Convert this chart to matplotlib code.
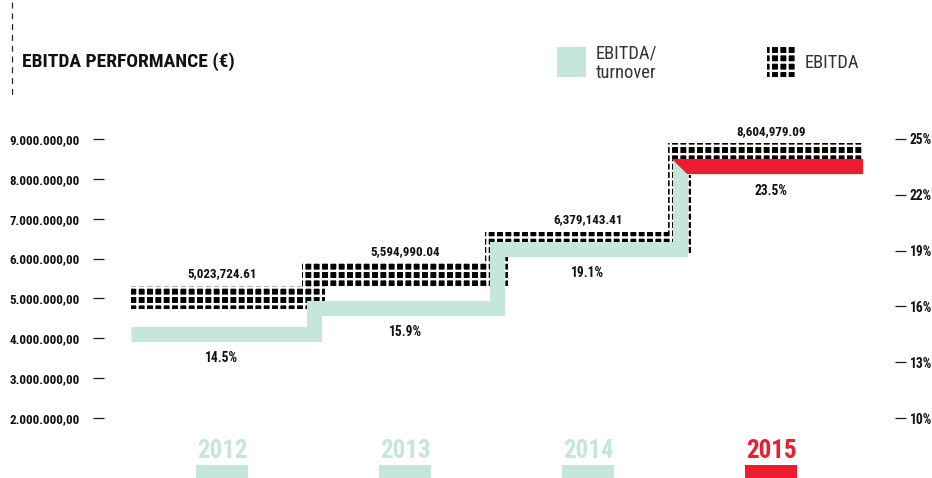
import matplotlib
matplotlib.use('Agg')
import matplotlib.pyplot as plt
from matplotlib.patches import Rectangle, Polygon
from matplotlib.lines import Line2D

# ---------------- data ----------------
years = ['2012', '2013', '2014', '2015']
ebitda = [5023724.61, 5594990.04, 6379143.41, 8604979.09]
ebitda_labels = ['5,023,724.61', '5,594,990.04', '6,379,143.41', '8,604,979.09']
ratio = [14.5, 15.9, 19.1, 23.5]
ratio_labels = ['14.5%', '15.9%', '19.1%', '23.5%']
left_ticks = [2e6, 3e6, 4e6, 5e6, 6e6, 7e6, 8e6, 9e6]
left_tick_labels = ['2.000.000,00', '3.000.000,00', '4.000.000,00', '5.000.000,00',
                    '6.000.000,00', '7.000.000,00', '8.000.000,00', '9.000.000,00']
right_ticks = [10, 13, 16, 19, 22, 25]
right_tick_labels = ['10%', '13%', '16%', '19%', '22%', '25%']

GREEN = '#c6e6d9'
RED = '#ed1c2e'
year_colors = [GREEN, GREEN, GREEN, RED]

# ---------------- layout ----------------
DPI = 100
W, H = 932, 478


def pt(px):
    return px * 72.0 / DPI


FAM = ['Roboto Condensed', 'Liberation Sans', 'DejaVu Sans']
plt.rcParams['font.family'] = FAM
plt.rcParams['hatch.linewidth'] = pt(2.4)

fig = plt.figure(figsize=(W / DPI, H / DPI), dpi=DPI)
AX_L, AX_R, AX_T, AX_B = 104, 895, 120, 440
ax = fig.add_axes([AX_L / W, (H - AX_B) / H, (AX_R - AX_L) / W, (AX_B - AX_T) / H])
ax2 = ax.twinx()

# pixel scales
XPX = 183.0                 # px per year
YPX_L = 279.0 / 7e6         # px per euro
YPX_R = 279.0 / 15.0        # px per percent
X0 = 222.0                  # pixel of first year centre

ax.set_xlim((AX_L - X0) / XPX, (AX_R - X0) / XPX)
ax.set_ylim(2e6 - (AX_B - 418) / YPX_L, 9e6 + (139 - AX_T) / YPX_L)
ax2.set_ylim(10 - (AX_B - 418) / YPX_R, 25 + (139 - AX_T) / YPX_R)

for a in (ax, ax2):
    for s in a.spines.values():
        s.set_visible(False)
    a.set_xticks([])

n = len(years)

# ---------------- EBITDA dotted step band ----------------
hb = 11.5 / YPX_L
hx = 11.5 / XPX
upper = [(-0.5, ebitda[0] + hb)]
for i in range(n - 1):
    t = i + 0.5
    upper.append((t - hx, ebitda[i] + hb))
    upper.append((t - hx, ebitda[i + 1] + hb))
upper.append((n - 0.5, ebitda[-1] + hb))
lower = [(n - 0.5, ebitda[-1] - hb)]
for i in range(n - 2, -1, -1):
    t = i + 0.5
    lower.append((t + hx, ebitda[i + 1] - hb))
    lower.append((t + hx, ebitda[i] - hb))
lower.append((-0.5, ebitda[0] - hb))
band = Polygon(upper + lower, closed=True, facecolor='black', edgecolor='white',
               hatch='++', linewidth=0, zorder=2)
ax.add_patch(band)

for i, (v, lab) in enumerate(zip(ebitda, ebitda_labels)):
    ax.annotate(lab, (i, v), xytext=(0, pt(23.5)), textcoords='offset points',
                ha='center', va='center', fontsize=pt(13), fontweight='bold',
                color='#111')

# ---------------- EBITDA/turnover step line ----------------
xs, ys = [-0.5], [ratio[0]]
for i in range(n - 1):
    xs += [i + 0.5, i + 0.5]
    ys += [ratio[i], ratio[i + 1]]
xs.append(n - 0.5)
ys.append(ratio[-1])
ax2.plot(xs, ys, color=GREEN, lw=pt(15), solid_joinstyle='miter',
         solid_capstyle='butt', zorder=3)

hyg = 7.5 / YPX_R
hxg = 7.5 / XPX
tl = n - 1.5
red_poly = Polygon([(tl - hxg, ratio[-1] + hyg), (n - 0.5, ratio[-1] + hyg),
                    (n - 0.5, ratio[-1] - hyg), (tl + hxg, ratio[-1] - hyg)],
                   closed=True, facecolor=RED, edgecolor='none', zorder=4)
ax2.add_patch(red_poly)

for i, (r, lab) in enumerate(zip(ratio, ratio_labels)):
    ax2.annotate(lab, (i, r), xytext=(0, -pt(24)), textcoords='offset points',
                 ha='center', va='center', fontsize=pt(13.5), fontweight='bold',
                 color='#111')

# ---------------- axes ticks ----------------
ax.set_yticks(left_ticks, left_tick_labels)
ax.tick_params(axis='y', length=pt(11), width=pt(1.3), pad=pt(13),
               labelsize=pt(13), color='#222', labelcolor='#111')
for lbl in ax.get_yticklabels():
    lbl.set_fontweight('bold')
ax2.set_yticks(right_ticks, right_tick_labels)
ax2.tick_params(axis='y', length=pt(11), width=pt(1.3), pad=pt(4),
                labelsize=pt(13.5), color='#222', labelcolor='#111')
for lbl in ax2.get_yticklabels():
    lbl.set_fontweight('bold')

# ---------------- year labels ----------------
xt = ax.get_xaxis_transform()
for i, (yr, c) in enumerate(zip(years, year_colors)):
    ax.text(i, (AX_B - 451) / (AX_B - AX_T), yr, transform=xt, ha='center',
            va='center', fontsize=pt(25), fontweight='bold', color=c, clip_on=False)
    ax.add_patch(Rectangle((i - 26 / XPX, (AX_B - 478) / (AX_B - AX_T)), 52 / XPX,
                           13 / (AX_B - AX_T), transform=xt, facecolor=c,
                           edgecolor='none', clip_on=False))

# ---------------- title & legend ----------------
fig.text(22 / W, 1 - 62 / H, 'EBITDA PERFORMANCE (€)', fontsize=pt(19.5),
         fontweight='bold', va='center', ha='left', color='#111')
fig.add_artist(Line2D([12 / W, 12 / W], [1 - 2 / H, 1 - 95 / H], color='#222',
                      lw=pt(1.2), linestyle=(0, (5, 4))))

fig.add_artist(Rectangle((557 / W, 1 - 77 / H), 29 / W, 30 / H,
                         transform=fig.transFigure, facecolor=GREEN, edgecolor='none'))
fig.text(596 / W, 1 - 53 / H, 'EBITDA/', fontsize=pt(18.5), va='center', ha='left',
         color='#333')
fig.text(596 / W, 1 - 73 / H, 'turnover', fontsize=pt(18.5), va='center', ha='left',
         color='#333')
fig.add_artist(Rectangle((767 / W, 1 - 77 / H), 29 / W, 30 / H,
                         transform=fig.transFigure, facecolor='black',
                         edgecolor='white', hatch='++', linewidth=0))
fig.text(805 / W, 1 - 63 / H, 'EBITDA', fontsize=pt(18.5), va='center', ha='left',
         color='#333')

fig.savefig('out.png', dpi=DPI, facecolor='white')
